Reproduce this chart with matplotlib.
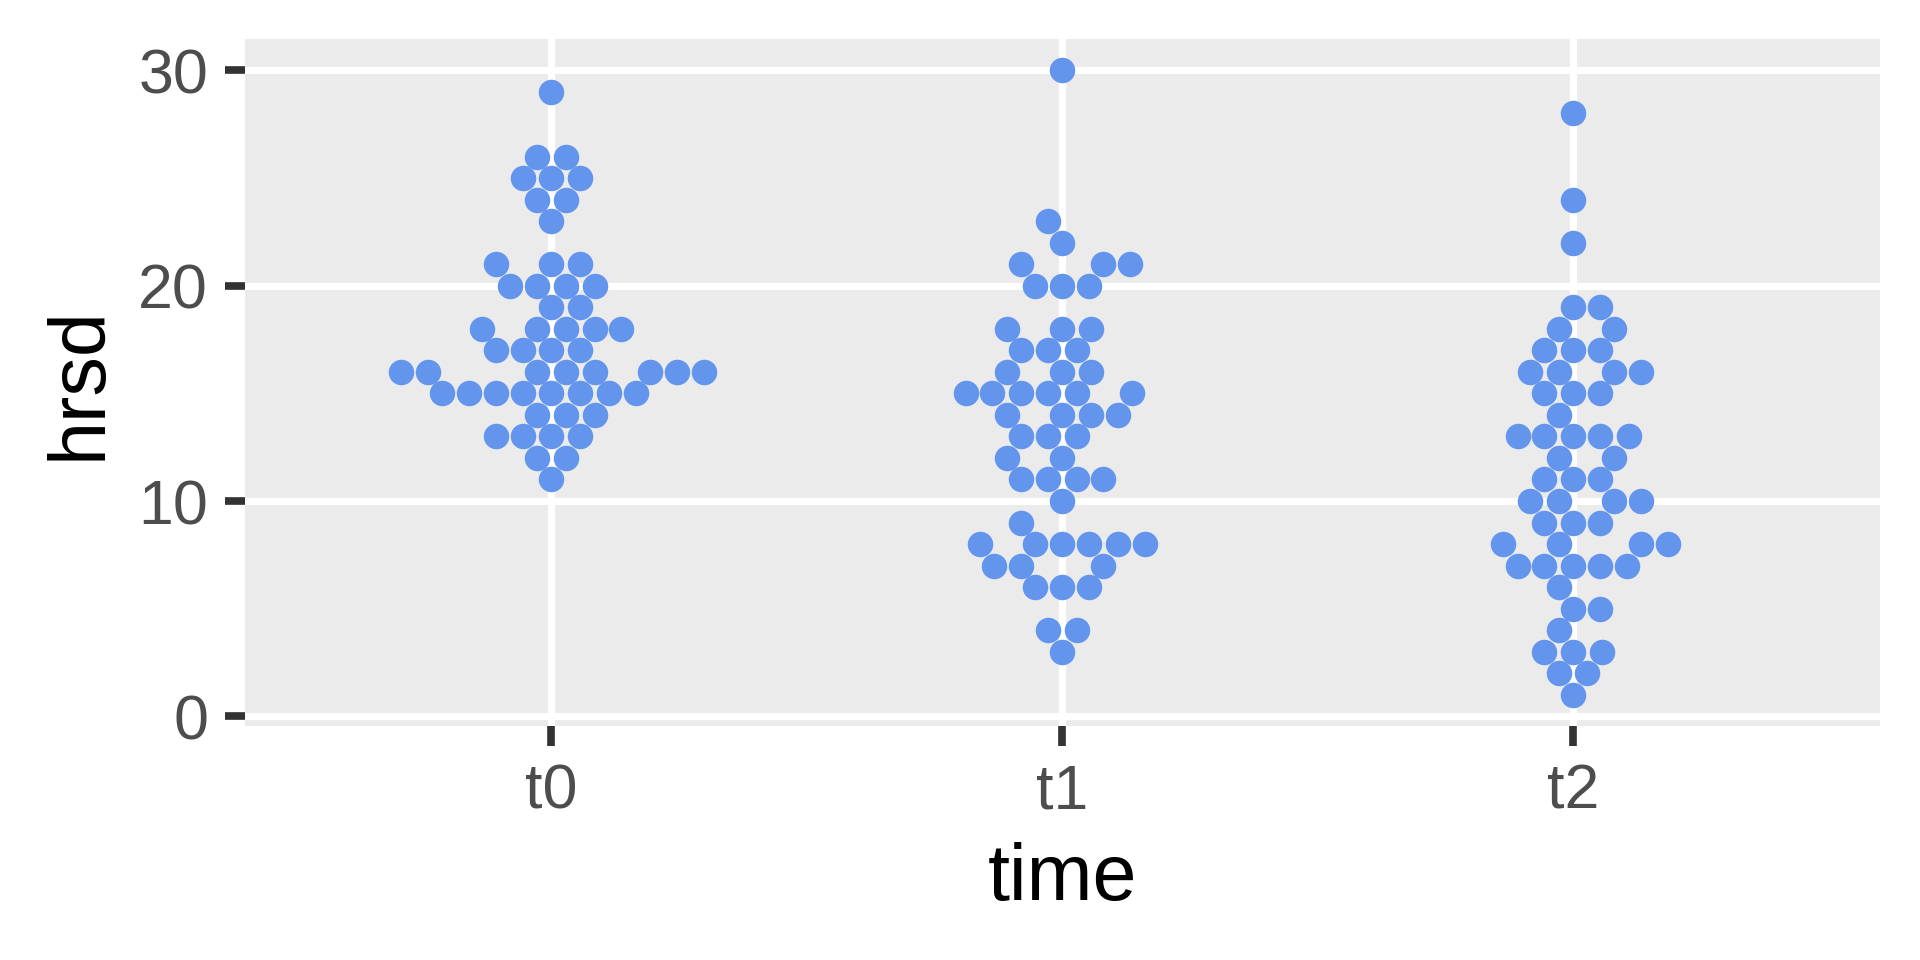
import numpy as np
import pandas as pd
import matplotlib
matplotlib.use("Agg")
import matplotlib.pyplot as plt
import seaborn as sns

# hrsd scores, one list per time point
t0 = [29, 26, 26, 25, 25, 25, 24, 24, 23, 21, 21, 21, 20, 20, 20, 20, 19, 19,
      18, 18, 18, 18, 18, 17, 17, 17, 17, 16, 16, 16, 16, 16, 16, 16, 16,
      15, 15, 15, 15, 15, 15, 15, 15, 14, 14, 14, 13, 13, 13, 13, 12, 12, 11]
t1 = [30, 23, 22, 21, 21, 21, 20, 20, 20, 18, 18, 18, 17, 17, 17, 16, 16, 16,
      15, 15, 15, 15, 15, 15, 14, 14, 14, 14, 13, 13, 13, 12, 12, 11, 11, 11, 11,
      10, 9, 8, 8, 8, 8, 8, 8, 7, 7, 7, 6, 6, 6, 4, 4, 3]
t2 = [28, 24, 22, 19, 19, 18, 18, 17, 17, 17, 16, 16, 16, 16, 15, 15, 15, 14,
      13, 13, 13, 13, 13, 12, 12, 11, 11, 11, 10, 10, 10, 10, 9, 9, 9,
      8, 8, 8, 8, 7, 7, 7, 7, 7, 6, 5, 5, 4, 3, 3, 3, 2, 2, 1]

times = ["t0", "t1", "t2"]
y_ticks = [0, 10, 20, 30]

df = pd.DataFrame({
    "time": ["t0"] * len(t0) + ["t1"] * len(t1) + ["t2"] * len(t2),
    "hrsd": t0 + t1 + t2,
})

plt.rcParams["font.family"] = ["Liberation Sans", "DejaVu Sans"]

fig = plt.figure(figsize=(1568 / 300, 784 / 300), dpi=367.35)
ax = fig.add_axes([244.9 / 1920, 1 - 726 / 960, (1879.6 - 244.9) / 1920, (726 - 39.2) / 960])
ax.set_facecolor("#EBEBEB")

sns.swarmplot(data=df, x="time", y="hrsd", order=times, color="#6495ED",
              size=5.0, linewidth=0, ax=ax, zorder=3)

lo, hi = df["hrsd"].min(), df["hrsd"].max()
pad = 0.05 * (hi - lo)
ax.set_ylim(lo - pad, hi + pad)
ax.set_xlim(-0.6, 2.6)
ax.set_yticks(y_ticks)
ax.set_xticks(range(len(times)))
ax.set_xticklabels(times)

ax.grid(True, color="white", linewidth=1.4, zorder=0)
ax.set_axisbelow(True)
for s in ax.spines.values():
    s.set_visible(False)
ax.tick_params(axis="both", length=4.0, width=1.5, color="#333333",
               labelcolor="#4D4D4D", labelsize=12.3, pad=3.2)
ax.set_xlabel("time", fontsize=15.5, color="black", labelpad=4)
ax.set_ylabel("hrsd", fontsize=15.5, color="black", labelpad=4)

fig.savefig("out.png", dpi=367.35, facecolor="white")
